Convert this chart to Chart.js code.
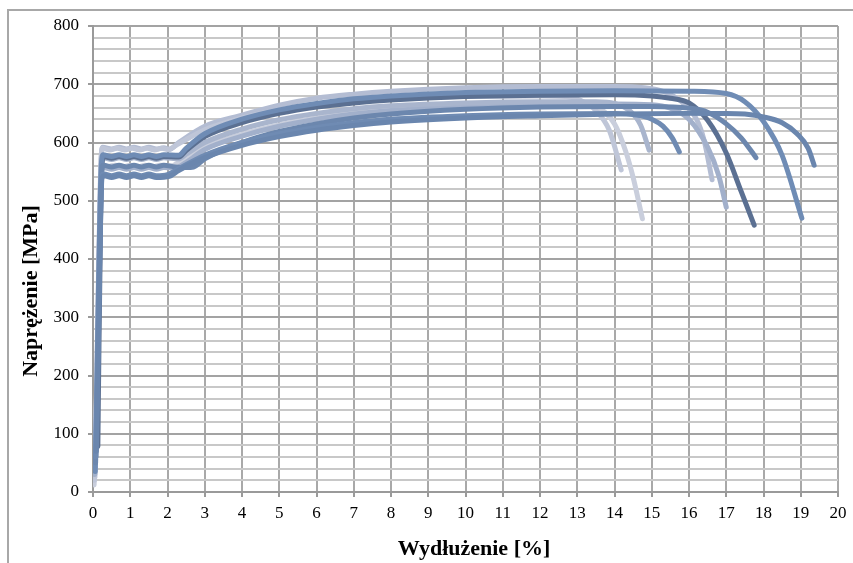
<!DOCTYPE html>
<html>
<head>
<meta charset="utf-8">
<script src="https://cdn.jsdelivr.net/npm/chart.js@4.4.1/dist/chart.umd.min.js"></script>
<style>
  html, body { margin: 0; padding: 0; background: #ffffff; }
  #wrap { width: 853px; height: 563px; position: relative; }
</style>
</head>
<body>
<div id="wrap"><canvas id="c" width="853" height="563"></canvas></div>
<script>
// Stress–strain curves of the tested specimens: [elongation %, stress MPa]
const specimen1 = [[0.03,12],[0.08,120],[0.14,330],[0.2,520],[0.25,562],[0.4,559],[0.6,561],[0.8,558],[1.0,561],[1.2,558],[1.4,561],[1.6,558],[1.8,561],[2.1,560],[2.4,570],[3,592],[4,614],[5,630],[6,642],[7,651],[8,657],[10,664],[12,667],[13,667],[13.5,662],[14,632],[14.3,585],[14.5,540],[14.75,469]];
const specimen2 = [[0.04,20],[0.09,160],[0.15,380],[0.2,540],[0.25,590],[0.45,587],[0.65,590],[0.85,587],[1.05,590],[1.25,587],[1.45,590],[1.65,587],[1.85,590],[2.0,588],[2.3,598],[3,622],[4,642],[5,656],[6,666],[7,672],[8,676],[10,679],[12,680],[12.7,679],[13.1,672],[13.5,655],[13.86,621],[14.18,553]];
const specimen3 = [[0.06,40],[0.11,200],[0.17,420],[0.22,560],[0.27,574],[0.5,571],[0.7,574],[0.9,571],[1.1,574],[1.3,571],[1.5,574],[1.7,571],[1.9,574],[2.3,572],[2.5,580],[3,600],[4,623],[5,639],[6,650],[7,658],[8,663],[10,668],[12,670],[13.5,670],[14,667],[14.4,655],[14.7,630],[14.93,587]];
const specimen4 = [[0.08,60],[0.13,230],[0.19,440],[0.24,545],[0.3,546],[0.5,543],[0.7,546],[0.9,543],[1.1,546],[1.3,543],[1.5,546],[1.7,543],[2.0,545],[2.3,555],[3,578],[4,600],[5,615],[6,626],[7,634],[8,640],[10,646],[12,649],[14,650],[14.6,647],[15,640],[15.3,628],[15.55,608],[15.74,584]];
const specimen5 = [[0.05,25],[0.1,180],[0.16,400],[0.21,560],[0.26,592],[0.5,589],[0.7,592],[0.9,589],[1.1,592],[1.3,589],[1.5,592],[1.7,589],[1.9,591],[2.05,588],[2.3,600],[3,628],[4,647],[5,664],[6,676],[7,683],[8,688],[10,694],[12,696],[13,696],[14,696],[14.8,694],[15.3,688],[15.8,670],[16.2,640],[16.4,605],[16.62,536]];
const specimen6 = [[0.05,30],[0.1,170],[0.16,390],[0.22,540],[0.27,557],[0.5,554],[0.7,557],[0.9,554],[1.1,557],[1.3,554],[1.5,557],[1.7,554],[1.9,557],[2.2,556],[2.5,566],[3,588],[4,611],[5,628],[6,640],[7,649],[8,655],[10,662],[12,665],[14,666],[15,665],[15.5,659],[16,640],[16.5,592],[16.8,543],[17.0,489]];
const specimen7 = [[0.13,78],[0.16,250],[0.2,450],[0.24,560],[0.29,576],[0.5,573],[0.7,576],[0.9,573],[1.1,576],[1.3,573],[1.5,576],[1.7,573],[1.9,576],[2.3,575],[2.5,586],[3,610],[4,634],[5,650],[6,661],[7,668],[8,673],[10,679],[12,681],[14,682],[15,680],[15.5,676],[16,668],[16.5,638],[17,582],[17.4,516],[17.75,458]];
const specimen8 = [[0.07,50],[0.12,210],[0.18,430],[0.23,550],[0.28,561],[0.5,558],[0.7,561],[0.9,558],[1.1,561],[1.3,558],[1.5,561],[1.7,558],[1.9,561],[2.2,558],[2.5,557],[2.7,558],[3,572],[4,600],[5,619],[6,632],[7,642],[8,649],[10,657],[12,661],[14,662],[15,662],[16,659],[16.5,652],[17,632],[17.4,608],[17.8,574]];
const specimen9 = [[0.06,35],[0.11,190],[0.17,410],[0.22,555],[0.27,579],[0.5,576],[0.7,579],[0.9,576],[1.1,579],[1.3,576],[1.5,579],[1.7,576],[1.9,579],[2.3,578],[2.5,590],[3,615],[4,640],[5,656],[6,667],[7,675],[8,680],[10,686],[12,688],[14,689],[16,688],[17,684],[17.5,670],[18,636],[18.5,578],[19.03,470]];
const specimen10 = [[0.09,70],[0.14,240],[0.19,430],[0.24,538],[0.3,543],[0.5,540],[0.7,543],[0.9,540],[1.1,543],[1.3,540],[1.5,543],[1.7,540],[2.05,542],[2.3,552],[3,574],[4,595],[5,610],[6,621],[7,629],[8,635],[10,642],[12,646],[14,649],[16,650],[17,650],[17.5,649],[18,644],[18.5,634],[18.9,615],[19.2,590],[19.36,561]];

const seriesData = [specimen10, specimen4, specimen8, specimen9, specimen7, specimen3, specimen6, specimen2, specimen5, specimen1];
const seriesColors = ['#6a86ae', '#6f8bb3', '#6c87ae', '#6f8cb5', '#5b7092', '#a9b5cd', '#a2b0cb', '#bfc6d8', '#b4bdd3', '#c9cedc'];

const xTicks = [0,1,2,3,4,5,6,7,8,9,10,11,12,13,14,15,16,17,18,19,20];
const yTicks = [0,100,200,300,400,500,600,700,800];

const xTitle = 'Wydłużenie [%]';
const yTitle = 'Naprężenie [MPa]';

// frame around the whole chart and the two axis titles
const decorPlugin = {
  id: 'decor',
  beforeDraw(chart) {
    const ctx = chart.ctx;
    ctx.save();
    ctx.fillStyle = '#ffffff';
    ctx.fillRect(0, 0, chart.width, chart.height);
    ctx.strokeStyle = '#a8a8a8';
    ctx.lineWidth = 2;
    ctx.strokeRect(8, 10, chart.width + 10, chart.height + 10);
    ctx.restore();
  },
  afterDraw(chart) {
    const ctx = chart.ctx;
    ctx.save();
    ctx.fillStyle = '#000000';
    ctx.font = 'bold 22px "Liberation Serif"';
    ctx.textAlign = 'center';
    ctx.textBaseline = 'middle';
    ctx.fillText(xTitle, 474, 549);
    ctx.translate(31, 291);
    ctx.rotate(-Math.PI / 2);
    ctx.fillText(yTitle, 0, 0);
    ctx.restore();
  }
};

const datasets = seriesData.map((pts, i) => ({
  label: 'Próbka ' + (i + 1),
  data: pts.map(p => ({ x: p[0], y: p[1] })),
  borderColor: seriesColors[i],
  backgroundColor: seriesColors[i],
  borderWidth: 5,
  borderCapStyle: 'round',
  borderJoinStyle: 'round',
  pointRadius: 0,
  showLine: true,
  cubicInterpolationMode: 'monotone',
  fill: false
}));

new Chart(document.getElementById('c'), {
  type: 'scatter',
  data: { datasets },
  plugins: [decorPlugin],
  options: {
    responsive: false,
    animation: false,
    events: [],
    layout: { padding: { left: 10, top: 26, right: 15, bottom: 0 } },
    plugins: { legend: { display: false }, tooltip: { enabled: false } },
    scales: {
      x: {
        type: 'linear',
        min: 0, max: 20,
        afterBuildTicks: s => { s.ticks = xTicks.map(v => ({ value: v })); },
        afterFit: s => { s.height = 71; },
        border: { display: true, color: '#9a9a9a', width: 2 },
        grid: { color: '#a9a9a9', lineWidth: 2, tickLength: 5, tickColor: '#9a9a9a' },
        ticks: { color: '#000000', padding: 6, font: { family: '"Liberation Serif"', size: 17 }, maxRotation: 0, autoSkip: false }
      },
      y: {
        type: 'linear',
        min: 0, max: 800,
        afterBuildTicks: s => {
          const t = [];
          for (let v = 0; v <= 800; v += 20) t.push({ value: v });
          s.ticks = t;
        },
        afterFit: s => { s.width = 83; },
        border: { display: true, color: '#9a9a9a', width: 2 },
        grid: {
          color: c => (yTicks.includes(c.tick.value) ? '#a3a3a3' : '#c8c8c8'),
          tickColor: c => (yTicks.includes(c.tick.value) ? '#9a9a9a' : 'rgba(0,0,0,0)'),
          lineWidth: 2, tickLength: 5
        },
        ticks: {
          color: '#000000', padding: 9, autoSkip: false,
          font: { family: '"Liberation Serif"', size: 17 },
          callback: v => (yTicks.includes(v) ? String(v) : '')
        }
      }
    }
  }
});
</script>
</body>
</html>
